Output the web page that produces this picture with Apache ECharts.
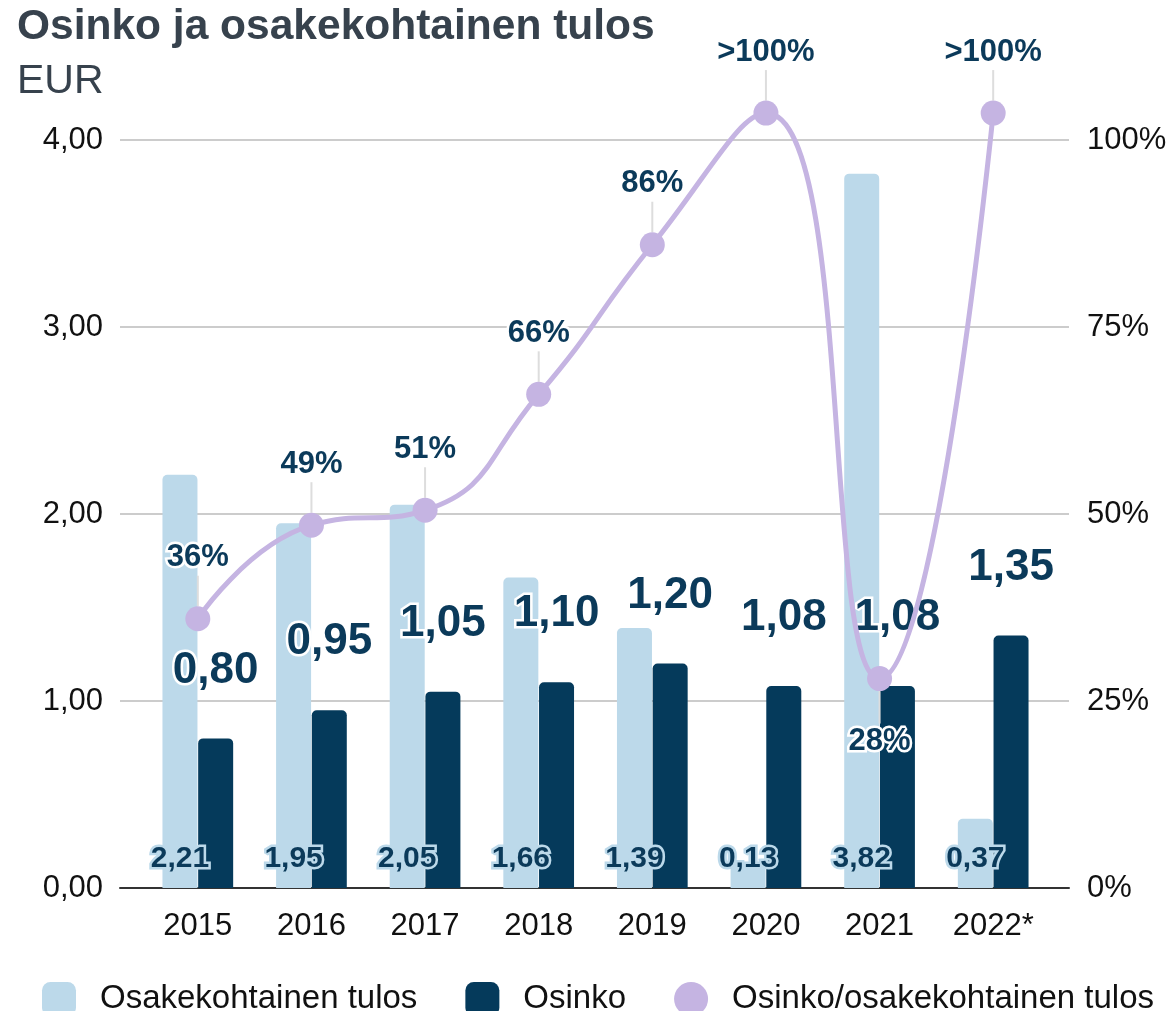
<!DOCTYPE html>
<html>
<head>
<meta charset="utf-8">
<title>Osinko ja osakekohtainen tulos</title>
<script src="https://cdn.jsdelivr.net/npm/echarts@6/dist/echarts.min.js"></script>
<style>
  html, body { margin: 0; padding: 0; background: #fff; }
  #main { width: 1171px; height: 1011px; }
</style>
</head>
<body>
<div id="main"></div>
<script>
  var years = ['2015', '2016', '2017', '2018', '2019', '2020', '2021', '2022*'];
  var eps = [2.21, 1.95, 2.05, 1.66, 1.39, 0.13, 3.82, 0.37];
  var dividend = [0.80, 0.95, 1.05, 1.10, 1.20, 1.08, 1.08, 1.35];
  // ">100%" years are drawn a little above the 100% line
  var payout = [36, 48.5, 50.5, 66, 86, 103.6, 28, 103.6];
  var payoutLabels = ['36%', '49%', '51%', '66%', '86%', '>100%', '28%', '>100%'];

  var FONT = "'Liberation Sans', Arial, sans-serif";
  var LIGHT = '#bcd9ea';
  var DARK = '#053a5b';
  var PURPLE = '#c5b4e2';
  var TEXT = '#0b3a5a';

  // visible axes: 0..4 EUR / 0..100 % between y=140 and y=888
  // series grid reaches higher so the >100% points and curve are not squeezed
  var AXIS_TOP = 140, SERIES_TOP = 90, BOTTOM = 123, H = 1011;
  var stretch = (H - BOTTOM - SERIES_TOP) / (H - BOTTOM - AXIS_TOP);

  function comma(v) {
    return v.toFixed(2).replace('.', ',');
  }

  var chart = echarts.init(document.getElementById('main'));
  chart.setOption({
    backgroundColor: '#fff',
    textStyle: { fontFamily: FONT },
    title: {
      text: 'Osinko ja osakekohtainen tulos',
      subtext: 'EUR',
      left: 12,
      top: 1,
      itemGap: 12,
      textStyle: { fontFamily: FONT, fontSize: 42.5, fontWeight: 'bold', color: '#37424d' },
      subtextStyle: { fontFamily: FONT, fontSize: 41, color: '#37424d' }
    },
    legend: {
      left: 37,
      top: 977,
      itemWidth: 34,
      itemHeight: 34,
      itemGap: 48,
      textStyle: { fontFamily: FONT, fontSize: 33, color: '#111', padding: [0, 0, 0, 19] },
      data: [
        { name: 'Osakekohtainen tulos', icon: 'roundRect' },
        { name: 'Osinko', icon: 'roundRect' },
        { name: 'Osinko/osakekohtainen tulos', icon: 'circle' }
      ]
    },
    grid: [
      { left: 120, right: 102, top: AXIS_TOP, bottom: BOTTOM },
      { left: 141, right: 121, top: SERIES_TOP, bottom: BOTTOM }
    ],
    xAxis: [
      {
        gridIndex: 0, type: 'value', min: 0, max: 1,
        axisLine: { show: true, onZero: false, lineStyle: { color: '#333', width: 2 } },
        axisTick: { show: false }, axisLabel: { show: false }, splitLine: { show: false }
      },
      {
        gridIndex: 1, type: 'category', data: years,
        axisLine: { show: false }, axisTick: { show: false },
        axisLabel: { fontFamily: FONT, fontSize: 31, color: '#111', margin: 23 }
      }
    ],
    yAxis: [
      {
        gridIndex: 0, type: 'value', min: 0, max: 4, interval: 1,
        axisLine: { show: false }, axisTick: { show: false },
        axisLabel: { fontFamily: FONT, fontSize: 31, color: '#111', margin: 17, formatter: comma },
        splitLine: { lineStyle: { color: '#cccccc', width: 2 } }
      },
      {
        gridIndex: 0, type: 'value', min: 0, max: 100, interval: 25, position: 'right',
        axisLine: { show: false }, axisTick: { show: false },
        axisLabel: { fontFamily: FONT, fontSize: 31, color: '#111', margin: 18, formatter: '{value}%' },
        splitLine: { show: false }
      },
      { gridIndex: 1, type: 'value', min: 0, max: 4 * stretch, show: false },
      { gridIndex: 1, type: 'value', min: 0, max: 100 * stretch, show: false }
    ],
    series: [
      {
        name: 'Osakekohtainen tulos',
        type: 'bar',
        xAxisIndex: 1, yAxisIndex: 2,
        data: eps,
        barWidth: 35,
        barGap: '2%',
        itemStyle: { color: LIGHT, borderRadius: [5, 5, 0, 0] },
        label: {
          show: true, position: 'insideBottom', distance: 14,
          fontFamily: FONT, fontSize: 30, fontWeight: 'bold', color: TEXT,
          textBorderColor: LIGHT, textBorderWidth: 5,
          formatter: function (p) { return comma(p.value); }
        }
      },
      {
        name: 'Osinko',
        type: 'bar',
        xAxisIndex: 1, yAxisIndex: 2,
        data: dividend,
        barWidth: 35,
        itemStyle: { color: DARK, borderRadius: [5, 5, 0, 0] },
        label: {
          show: true, position: 'top', distance: 46,
          fontFamily: FONT, fontSize: 44, fontWeight: 'bold', color: TEXT,
          textBorderColor: '#fff', textBorderWidth: 5,
          formatter: function (p) { return comma(p.value); }
        }
      },
      {
        name: 'Osinko/osakekohtainen tulos',
        type: 'line',
        xAxisIndex: 1, yAxisIndex: 3,
        data: payout,
        smooth: 0.5,
        z: 5,
        symbol: 'circle',
        symbolSize: 25,
        lineStyle: { color: PURPLE, width: 5 },
        itemStyle: { color: PURPLE },
        label: {
          show: true, position: 'top', distance: 5,
          fontFamily: FONT, fontSize: 31, fontWeight: 'bold', color: TEXT,
          textBorderColor: '#fff', textBorderWidth: 5,
          formatter: function (p) { return payoutLabels[p.dataIndex]; }
        },
        labelLayout: function (p) {
          // the lowest point keeps its label below the marker
          return { dy: payout[p.dataIndex] < 30 ? 96 : -28 };
        },
        labelLine: { show: true, lineStyle: { color: '#dddddd', width: 2 } }
      }
    ]
  });
</script>
</body>
</html>
